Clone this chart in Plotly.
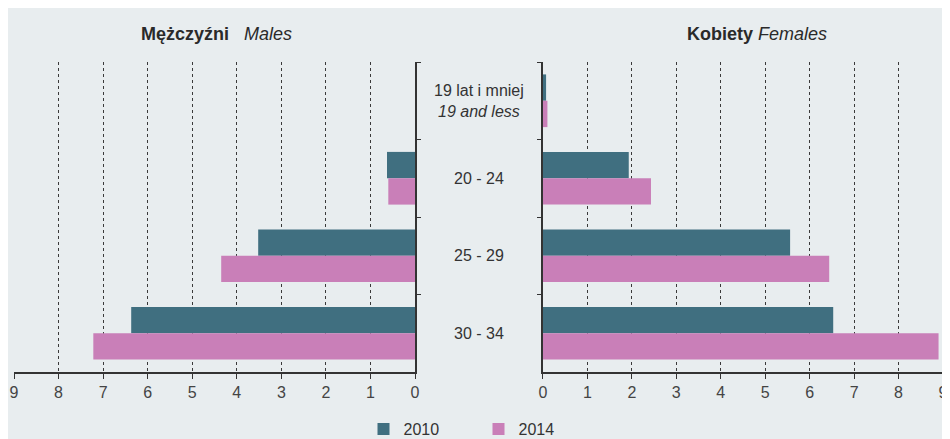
import plotly.graph_objects as go

categories = ["19 lat i mniej", "20 - 24", "25 - 29", "30 - 34"]
center_labels = ["19 lat i mniej<br><i>19 and less</i>", "20 - 24", "25 - 29", "30 - 34"]
males_2010 = [0, 0.63, 3.52, 6.37]
males_2014 = [0, 0.60, 4.35, 7.22]
females_2010 = [0.07, 1.93, 5.56, 6.53]
females_2014 = [0.10, 2.43, 6.44, 8.90]
x_ticks = [0, 1, 2, 3, 4, 5, 6, 7, 8, 9]
years = ["2010", "2014"]
colors = ["#406f80", "#c97fb8"]

FONT = "Liberation Sans, Arial, sans-serif"
TXT = "#2a2a2a"
L_DOM = [0, 0.4317]
R_DOM = [0.5694, 1]

fig = go.Figure()
for name, vals, col in zip(years, [males_2010, males_2014], colors):
    fig.add_trace(go.Bar(y=categories, x=vals, name=name, orientation="h",
                         marker=dict(color=col, line=dict(width=0)),
                         xaxis="x", yaxis="y", showlegend=True))
for name, vals, col in zip(years, [females_2010, females_2014], colors):
    fig.add_trace(go.Bar(y=categories, x=vals, name=name, orientation="h",
                         marker=dict(color=col, line=dict(width=0)),
                         xaxis="x2", yaxis="y2", showlegend=False))

xcommon = dict(tickvals=x_ticks, showgrid=True, gridcolor="#3a3a3a", griddash="dot",
               gridwidth=1, zeroline=False, showline=True, linecolor="#333333",
               linewidth=2, ticks="outside", ticklen=5, tickcolor="#333333",
               tickfont=dict(family=FONT, size=16, color="#444444"), fixedrange=True,
               automargin=False, ticklabeloverflow="allow")
ycommon = dict(type="category", autorange="reversed", showgrid=False, zeroline=False,
               showline=True, linecolor="#333333", linewidth=1.5, ticks="outside",
               tickson="boundaries", ticklen=4, tickcolor="#333333",
               showticklabels=False, automargin=False)

# the page body adds an 8px margin, so the figure is 8px smaller and shifted
fig.update_layout(
    template="none",
    width=942, height=431,
    margin=dict(l=6, r=7, t=54, b=67, autoexpand=False),
    paper_bgcolor="#e8edef", plot_bgcolor="rgba(0,0,0,0)",
    barmode="group", bargap=0.32, bargroupgap=0,
    font=dict(family=FONT, color=TXT, size=14),
    xaxis=dict(domain=L_DOM, range=[9, 0], anchor="y", **xcommon),
    xaxis2=dict(domain=R_DOM, range=[0, 9], anchor="y2", **xcommon),
    yaxis=dict(domain=[0, 1], anchor="x", side="right", **ycommon),
    yaxis2=dict(domain=[0, 1], anchor="x2", side="left", **ycommon),
    legend=dict(orientation="h", x=0.5, xanchor="center", y=-0.184, yanchor="middle",
                font=dict(family=FONT, size=16, color="#333333"),
                entrywidth=70, entrywidthmode="pixels",
                traceorder="normal", bgcolor="rgba(0,0,0,0)"),
    showlegend=True,
)

mid = (L_DOM[1] + R_DOM[0]) / 2
for cat, lab in zip(categories, center_labels):
    fig.add_annotation(x=mid, xref="paper", y=cat, yref="y", text=lab, showarrow=False,
                       font=dict(family=FONT, size=16, color="#333333"), align="center")

fig.add_annotation(x=0.2185, xref="paper", xanchor="center", y=1, yref="paper",
                   yshift=40, text="<b>Mężczyźni</b>   <i>Males</i>", showarrow=False,
                   font=dict(family=FONT, size=18, color=TXT))
fig.add_annotation(x=0.80, xref="paper", xanchor="center", y=1, yref="paper",
                   yshift=40, text="<b>Kobiety</b> <i>Females</i>", showarrow=False,
                   font=dict(family=FONT, size=18, color=TXT))

fig.write_html("out.html")
